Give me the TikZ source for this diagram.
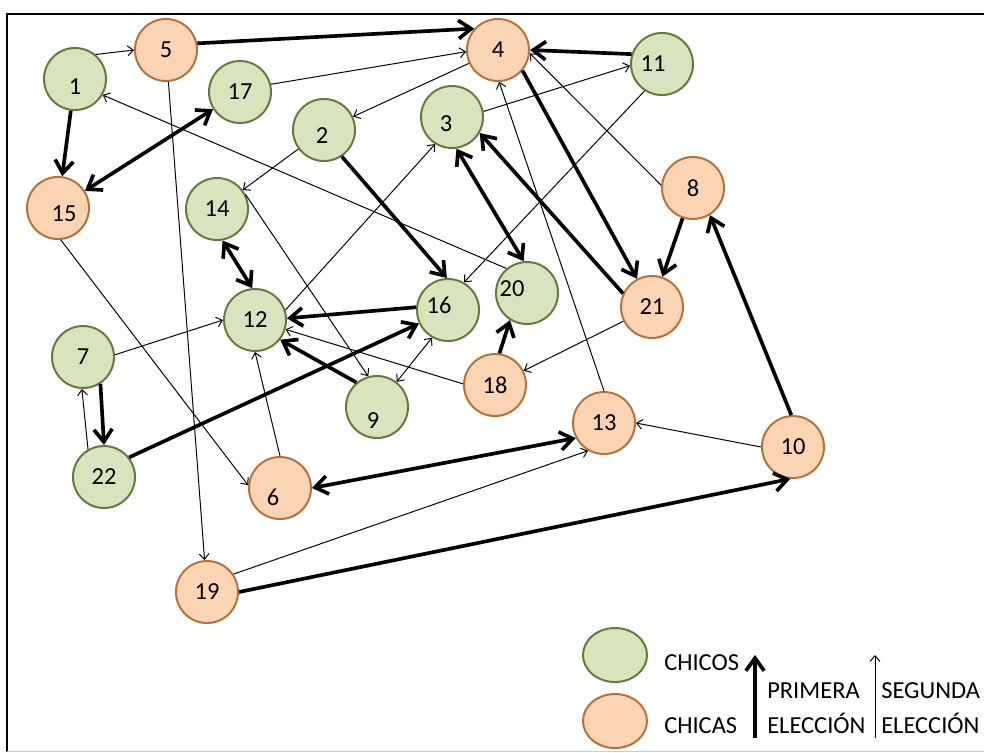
\documentclass[tikz,border=0pt]{standalone}
\usepackage{fontspec}
\setmainfont{Carlito}
\usetikzlibrary{arrows.meta}
\usetikzlibrary{shapes.geometric}

\definecolor{boyfill}{RGB}{215,228,189}
\definecolor{boyline}{RGB}{98,122,60}
\definecolor{girlfill}{RGB}{251,212,180}
\definecolor{girlline}{RGB}{182,112,56}

\tikzset{
  every node/.style={font=\fontsize{17.4}{20}\selectfont},
  boy/.style={circle, draw=boyline, fill=boyfill, line width=1.4pt, minimum size=1.55cm, inner sep=0pt},
  girl/.style={circle, draw=girlline, fill=girlfill, line width=1.4pt, minimum size=1.55cm, inner sep=0pt},
  thickedge/.style={line width=2.6pt, -{Straight Barb[length=9pt,width=13pt]}},
  thinedge/.style={line width=0.7pt, -{Straight Barb[length=4pt,width=7pt]}},
  thickboth/.style={line width=2.6pt, {Straight Barb[length=9pt,width=13pt]}-{Straight Barb[length=9pt,width=13pt]}},
  thinboth/.style={line width=0.7pt, {Straight Barb[length=4pt,width=7pt]}-{Straight Barb[length=4pt,width=7pt]}},
  keytext/.style={anchor=base west, inner sep=0pt}
}

\begin{document}
\begin{tikzpicture}[x=0.025cm, y=-0.025cm]
                \useasboundingbox (0,0) rectangle (984,752);
                \draw[line width=1.4pt] (7,752) -- (7,14) -- (984,14);
                \draw[black!20] (7,751) -- (984,751);

                % chicos
                \node[boy, label={[shift={(0,8)}]center:1}] (n1) at (75,79) {};
                \node[boy, label={[shift={(-2,6)}]center:2}] (n2) at (324,130) {};
                \node[boy, label={[shift={(-6,7)}]center:3}] (n3) at (452,117) {};
                \node[boy] (n7) at (83,357) {7};
                \node[boy, label={[shift={(-4,14)}]center:9}] (n9) at (377,407) {};
                \node[boy, label={[shift={(-9,0)}]center:11}] (n11) at (662,64) {};
                \node[boy] (n12) at (255,320) {12};
                \node[boy] (n14) at (217,209) {14};
                \node[boy, label={[shift={(-9,-5)}]center:16}] (n16) at (448,310) {};
                \node[boy] (n17) at (240,92) {17};
                \node[boy, label={[shift={(-15,-4)}]center:20}] (n20) at (527,293) {};
                \node[boy] (n22) at (104,477) {22};

                % chicas
                \node[girl] (n4) at (498,50) {4};
                \node[girl] (n5) at (166,50) {5};
                \node[girl, label={[shift={(-7,9)}]center:6}] (n6) at (280,488) {};
                \node[girl] (n8) at (693,188) {8};
                \node[girl] (n10) at (793,447) {10};
                \node[girl] (n13) at (604,423) {13};
                \node[girl, label={[shift={(6,6)}]center:15}] (n15) at (58,208) {};
                \node[girl] (n18) at (495,385) {18};
                \node[girl] (n19) at (207,592) {19};
                \node[girl] (n21) at (652,307) {21};

                % elecciones
                \draw[thinedge] (n1.50) -- (n5.180);
                \draw[thickedge] (n5.12) -- (n4.138);
                \draw[thickedge] (n1) -- (n15);
                \draw[thickboth] (n15) -- (n17);
                \draw[thinedge] (n17.14) -- (n4.183);
                \draw[thinedge] (n5) -- (n19);
                \draw[thinedge] (n4) -- (n2);
                \draw[thinedge] (n2) -- (n14);
                \draw[thickedge] (n2.-56) -- (n16.92);
                \draw[thickedge] (n11.162) -- (n4.0);
                \draw[thinedge] (n3.10) -- (n11.183);
                \draw[thickedge] (n4.-40) -- (n21.118);
                \draw[thickboth] (n3.-82) -- (n20.96);
                \draw[thickedge] (n21.155) -- (n3.-30);
                \draw[thinedge] (n8.175) -- (n4.-6);
                \draw[thinedge] (n13.90) -- (n4.-88);
                \draw[thinedge] (n11.237) -- (n16.60);
                \draw[thickedge] (n8) -- (n21);
                \draw[thickedge] (n10.93) -- (n8.-58);
                \draw[thinedge] (n20.130) -- (n1.-30);
                \draw[thickboth] (n14.-80) -- (n12.95);
                \draw[thinedge] (n14.27) -- (n9.106);
                \draw[thinedge] (n12.18) -- (n3.238);
                \draw[thickedge] (n16.175) -- (n12.3);
                \draw[thickedge] (n9.130) -- (n12.-38);
                \draw[thinedge] (n18.178) -- (n12.-17);
                \draw[thinboth] (n16.240) -- (n9.52);
                \draw[thickedge] (n18.82) -- (n20.238);
                \draw[thinedge] (n21) -- (n18);
                \draw[thinedge] (n7.4) -- (n12.180);
                \draw[thickedge] (n7.-57) -- (n22.90);
                \draw[thinedge] (n22.120) -- (n7.-92);
                \draw[thickedge] (n22.38) -- (n16.205);
                \draw[thinedge] (n15.-85) -- (n6.175);
                \draw[thinedge] (n6.90) -- (n12.-90);
                \draw[thickboth] (n6.0) -- (n13.208);
                \draw[thinedge] (n19.34) -- (n13.240);
                \draw[thickedge] (n19.0) -- (n10.-95);
                \draw[thinedge] (n10.180) -- (n13.0);

                % leyenda
                \node[boy, ellipse, minimum width=1.6cm, minimum height=1.35cm] (keyboy) at (615,655) {};
                \node[girl, ellipse, minimum width=1.6cm, minimum height=1.35cm] (keygirl) at (615,721) {};
                \node[keytext] (chicos) at (664,670) {CHICOS};
                \node[keytext] (chicas) at (664,733) {CHICAS};
                \coordinate (firstlow) at (755,738);
                \coordinate (firsthigh) at (755,655);
                \draw[thickedge] (firstlow) -- (firsthigh);
                \node[keytext] (primera) at (767,698) {PRIMERA};
                \node[keytext] (eleccion1) at (767,733) {ELECCIÓN};
                \coordinate (secondlow) at (875,738);
                \coordinate (secondhigh) at (875,655);
                \draw[thinedge] (secondlow) -- (secondhigh);
                \node[keytext] (segunda) at (881,698) {SEGUNDA};
                \node[keytext] (eleccion2) at (881,733) {ELECCIÓN};
            \end{tikzpicture}
\end{document}
